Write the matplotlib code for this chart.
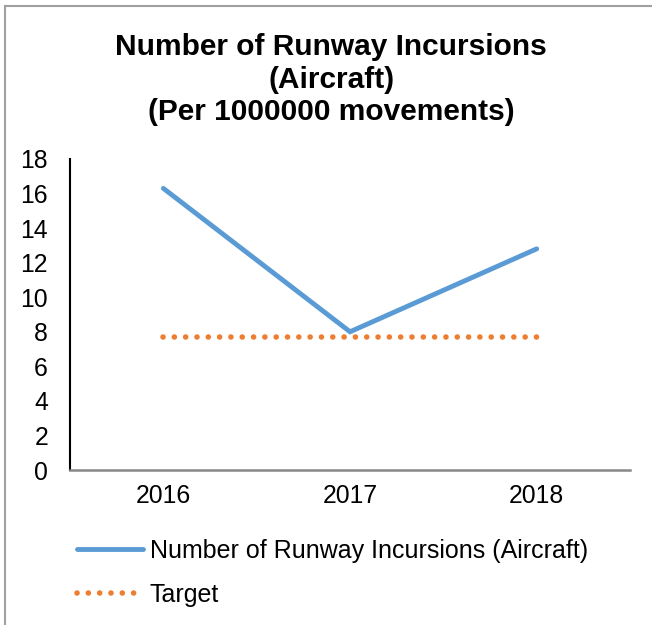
import matplotlib
matplotlib.use("Agg")
import matplotlib.pyplot as plt
from matplotlib.patches import Rectangle

plt.rcParams['font.family'] = ['Liberation Sans', 'DejaVu Sans']

years = ["2016", "2017", "2018"]
incursions = [16.3, 8.0, 12.8]
target = [7.7, 7.7, 7.7]
y_ticks = list(range(0, 20, 2))

title = "Number of Runway Incursions\n(Aircraft)\n(Per 1000000 movements)"
series_label = "Number of Runway Incursions (Aircraft)"
target_label = "Target"

blue = "#5B9BD5"
orange = "#ED7D31"

fig = plt.figure(figsize=(6.52, 6.25), dpi=100)
ax = fig.add_axes([0.1074, 0.248, 0.8589, 0.4976])

x = list(range(len(years)))
ax.plot(x, incursions, color=blue, lw=3.5, solid_capstyle='round',
        solid_joinstyle='miter', label=series_label, zorder=3)
ax.plot(x, target, color=orange, lw=4.0, linestyle=(0, (0.01, 2.027)),
        dash_capstyle='round', label=target_label, zorder=2)

ax.set_xlim(-0.5, len(years) - 0.5)
ax.set_ylim(0, 18)
ax.set_yticks(y_ticks)
ax.set_xticks(x)
ax.set_xticklabels(years)
ax.tick_params(axis='both', length=0, labelsize=17.8, colors='black')
ax.tick_params(axis='y', pad=15.8)
ax.tick_params(axis='x', pad=10)

for s in ['top', 'right']:
    ax.spines[s].set_visible(False)
ax.spines['left'].set_color('black')
ax.spines['left'].set_linewidth(1.5)
ax.spines['bottom'].set_color('#888888')
ax.spines['bottom'].set_linewidth(1.8)

fig.text(0.508, 0.947, title, ha='center', va='top', fontsize=21.5,
         fontweight='bold', linespacing=1.2)

leg = fig.legend(loc='upper left', bbox_to_anchor=(0.1028, 0.154),
                 frameon=False, fontsize=18, handlelength=2.64,
                 handletextpad=0.26, labelspacing=0.8, borderaxespad=0)

# outer chart frame
fig.patches.append(Rectangle((5 / 652, -0.05), 1.2, 1.05 - 6 / 625,
                             transform=fig.transFigure, fill=False,
                             edgecolor='#A0A0A0', lw=1.5))

fig.savefig("out.png", dpi=100)
